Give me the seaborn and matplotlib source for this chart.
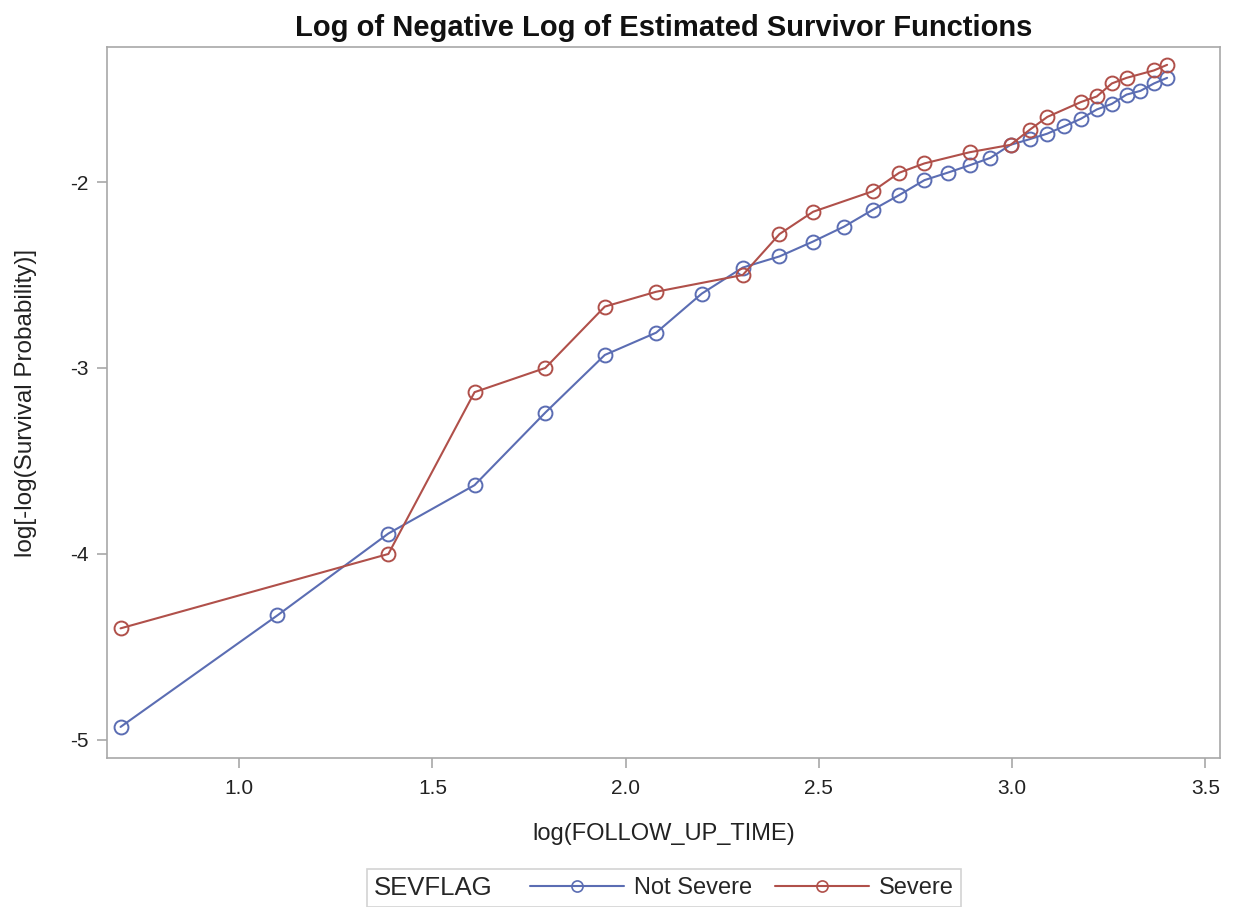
import matplotlib
matplotlib.use("Agg")
import matplotlib.pyplot as plt
import seaborn as sns
import pandas as pd
from matplotlib.lines import Line2D
from matplotlib.offsetbox import HPacker

# ---- data ----
ns_x = [0.693, 1.099, 1.386, 1.609, 1.792, 1.946, 2.079, 2.197, 2.303, 2.398,
        2.485, 2.565, 2.639, 2.708, 2.773, 2.833, 2.890, 2.944, 2.996, 3.045,
        3.091, 3.135, 3.178, 3.219, 3.258, 3.296, 3.332, 3.367, 3.401]
ns_y = [-4.93, -4.33, -3.89, -3.63, -3.24, -2.93, -2.81, -2.60, -2.46, -2.40,
        -2.32, -2.24, -2.15, -2.07, -1.99, -1.95, -1.91, -1.87, -1.80, -1.77,
        -1.74, -1.70, -1.66, -1.61, -1.58, -1.53, -1.51, -1.47, -1.44]

sv_x = [0.693, 1.386, 1.609, 1.792, 1.946, 2.079, 2.303, 2.398, 2.485, 2.639,
        2.708, 2.773, 2.890, 2.996, 3.045, 3.091, 3.178, 3.219, 3.258, 3.296,
        3.367, 3.401]
sv_y = [-4.40, -4.00, -3.13, -3.00, -2.67, -2.59, -2.50, -2.28, -2.16, -2.05,
        -1.95, -1.90, -1.84, -1.80, -1.72, -1.65, -1.57, -1.54, -1.47, -1.44,
        -1.40, -1.37]

groups = ["Not Severe", "Severe"]
x_ticks = [1.0, 1.5, 2.0, 2.5, 3.0, 3.5]
y_ticks = [-5, -4, -3, -2]

colors = {"Not Severe": "#5B6DB3", "Severe": "#B0504A"}

df = pd.concat([
    pd.DataFrame({"x": ns_x, "y": ns_y, "SEVFLAG": groups[0]}),
    pd.DataFrame({"x": sv_x, "y": sv_y, "SEVFLAG": groups[1]}),
], ignore_index=True)

sns.set_theme(style="white")
plt.rcParams["font.family"] = ["Liberation Sans", "DejaVu Sans"]
plt.rcParams["axes.unicode_minus"] = False

fig = plt.figure(figsize=(12.33, 9.07), dpi=100)
ax = fig.add_axes([0.0868, 0.1643, 0.9027, 0.7839])

for g in groups:
    sub = df[df["SEVFLAG"] == g]
    sns.lineplot(data=sub, x="x", y="y", ax=ax, color=colors[g], linewidth=1.5,
                 marker="o", markersize=10, markerfacecolor="none",
                 markeredgecolor=colors[g], markeredgewidth=1.4,
                 sort=False, estimator=None, legend=False)

ax.set_xlim(0.658, 3.538)
ax.set_ylim(-5.097, -1.274)
ax.set_xticks(x_ticks)
ax.set_xticklabels([f"{v:.1f}" for v in x_ticks])
ax.set_yticks(y_ticks)
ax.set_yticklabels([str(v) for v in y_ticks])

spine_col = "#A8A8A8"
for s in ax.spines.values():
    s.set_color(spine_col)
    s.set_linewidth(1.2)
ax.tick_params(axis="both", which="major", direction="out", length=7, width=1.2,
               color=spine_col, labelsize=15, labelcolor="#222222",
               bottom=True, left=True)
ax.tick_params(axis="x", pad=8)
ax.tick_params(axis="y", pad=6)

ax.set_xlabel("log(FOLLOW_UP_TIME)", fontsize=17, color="#222222", labelpad=18)
ax.set_ylabel("log[-log(Survival Probability)]", fontsize=17.5, color="#222222", labelpad=24)
ax.set_title("Log of Negative Log of Estimated Survivor Functions",
             fontsize=21, fontweight="bold", color="#111111", pad=8)

handles = [Line2D([], [], color=colors[g], linewidth=1.5, marker="o", markersize=8,
                  markerfacecolor="none", markeredgecolor=colors[g], markeredgewidth=1.2)
           for g in groups]
leg = fig.legend(handles, groups, title="SEVFLAG", ncol=2, loc="center",
                 bbox_to_anchor=(0.5385, 0.0209), fontsize=17, title_fontsize=18.5,
                 handlelength=3.98, handletextpad=0.42, columnspacing=0.97,
                 frameon=True, fancybox=False, edgecolor="#C8C8C8",
                 borderpad=0.3)
leg.get_frame().set_linewidth(1.2)
try:
    fs = leg._fontsize
    newbox = HPacker(pad=leg.borderpad * fs, sep=27.4, align="center",
                     children=[leg._legend_title_box, leg._legend_handle_box])
    newbox.set_figure(fig)
    newbox.axes = leg.axes
    newbox.set_offset(leg._findoffset)
    leg._legend_box = newbox
except Exception:
    pass

fig.savefig("out.png", dpi=100, facecolor="white")
